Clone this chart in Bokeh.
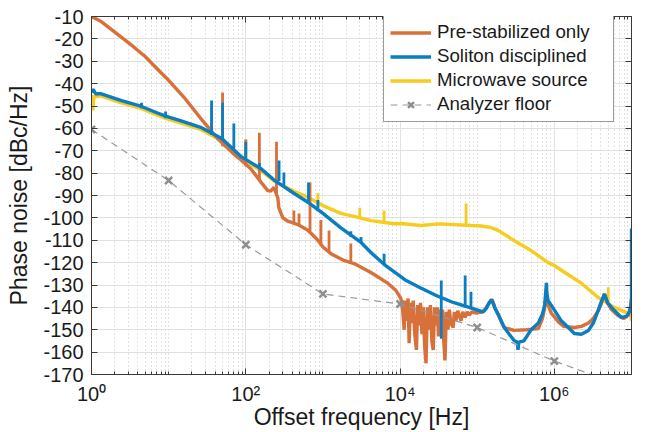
from bokeh.plotting import figure
from bokeh.models import FixedTicker, LogAxis, LinearAxis, Legend, LegendItem
from bokeh.embed import file_html
from bokeh.resources import INLINE

# ---------------- data ----------------
x_ticks = [1, 100, 10000, 1000000]
x_tick_labels = ["10⁰", "10²", "10⁴", "10⁶"]
y_ticks = [-170, -160, -150, -140, -130, -120, -110, -100, -90, -80, -70, -60, -50, -40, -30, -20, -10]
y_tick_labels = ["-170", "-160", "-150", "-140", "-130", "-120", "-110", "-100", "-90", "-80",
                 "-70", "-60", "-50", "-40", "-30", "-20", "-10"]

floor_f = [1, 10, 100, 1000, 10000, 100000, 1000000, 10000000]
floor_db = [-60.5, -83.3, -112, -134, -138.5, -149, -164, -176.5]

pre_f = [1, 1.3, 1.93, 3.5, 5, 7.9, 10, 15.7, 26, 43, 70, 86, 116, 157, 193, 210, 231, 260, 268,
         302, 351, 473, 638, 861, 1000, 1270, 1870, 2530, 4190, 6990, 8870, 10230,
         10800, 11300, 11600, 12200, 12700, 13100, 13600, 14300, 14800, 15500, 16300, 16900,
         17700, 18400, 19200, 20000, 20800, 21700, 22600, 23700, 24700, 25800, 26900, 28000,
         29400, 30500, 31500, 32800, 34200, 35500, 36800, 38200, 39800, 41800, 43500, 45500,
         48800, 50500, 52900, 56000, 61600, 65000, 69800, 74000, 78700, 85000, 96000,
         119000, 131000, 143000, 156000, 170000, 186000, 203000, 224000, 300000, 436000,
         620000, 700000, 750000, 790000, 830000, 910000, 1.13e6, 1.32e6, 1.82e6, 2.24e6,
         2.77e6, 3.2e6, 3.7e6, 4.0e6, 4.46e6, 4.9e6, 5.5e6, 6.6e6, 7.9e6, 9.1e6, 9.8e6, 1e7]
pre_db = [-10, -12, -16.5, -23.5, -28, -35, -38.5, -46, -55.5, -64.5, -71.5, -74, -78, -84,
          -87.8, -88, -86.4, -91, -95.4, -100, -101.5, -103, -105.5, -110, -113, -116, -119,
          -120.4, -124.4, -129.3, -132.5, -136,
          -141, -150, -137, -146, -136, -156, -138, -147, -137, -152, -159, -139,
          -148, -138, -152, -140, -157, -165, -140, -150, -139, -155, -159, -140,
          -148, -140, -153, -141, -147, -141, -155, -163.7, -142, -150, -141, -147,
          -149, -142, -146, -141.5, -146, -142, -144.5, -142, -143.5, -142, -142.5,
          -142, -140, -138, -136.5, -140, -143, -146, -149, -150.3, -150,
          -149.5, -145, -140, -133, -139, -142.5, -146.5, -148.5, -149, -148.5,
          -147, -145, -141.5, -139, -134, -138, -141, -143.5, -145, -143.5, -140, -136]

sol_f = [1, 1.05, 1.13, 1.31, 2.45, 4.46, 6.78, 9.14, 13.5, 18.2, 26, 48.8, 86, 157, 231, 419,
         638, 1000, 1710, 3120, 4190, 6580, 12000, 17700, 29400, 48800, 78700, 119000, 131000,
         143000, 152000, 160000, 170000, 186000, 224000, 300000, 330000, 338000, 346000, 403000,
         500000, 620000, 700000, 750000, 790000, 800000, 830000, 910000, 1.23e6, 1.82e6, 2.24e6,
         2.77e6, 3.2e6, 3.7e6, 4.0e6, 4.46e6, 4.9e6, 6.0e6, 7.4e6, 8.6e6, 9.4e6, 9.8e6, 1e7, 1e7]
sol_db = [-44, -42.5, -44.5, -44.5, -47.6, -50.2, -52.8, -54.5, -56.3, -57.8, -59.5, -64.5, -72.5,
          -78, -83, -89, -93, -98, -104.5, -111, -115.5, -121.5, -128, -131, -134.7, -137.8, -140,
          -142, -140.5, -138, -136.5, -138, -140.5, -143, -149, -154.8, -155.5, -159, -155.5, -155,
          -150, -147, -143, -139, -129, -134, -137, -139, -146, -151.7, -152,
          -150.3, -147, -141.4, -138, -134, -138, -141.4, -144.5, -144, -142, -139, -136, -104.7]

mw_f = [1, 1.04, 1.07, 1.31, 2.45, 4.46, 6.78, 9.14, 13.5, 18.2, 26, 48.8, 86, 157, 231, 300, 419,
        638, 1000, 1710, 2850, 4190, 8310, 10230, 18600, 31500, 83000, 112000, 150000, 186000,
        250000, 273000, 500000, 830000, 1.0e6, 1.37e6, 2.26e6, 3.7e6, 6.0e6, 9.1e6, 9.8e6, 1e7]
mw_db = [-45, -52, -46, -45.5, -48.6, -51.2, -53.8, -55.5, -57.3, -58.8, -60.5, -65.5, -73.5, -78.8,
         -83.5, -85.5, -88, -90.8, -94.5, -98, -99.8, -101.2, -102.6, -102.5, -103.4, -102.7, -103.4,
         -103.6, -104.3, -105.6, -108.3, -109.3, -114.6, -120, -121.3, -124.4, -129.3, -135.6,
         -140, -142.7, -144, -146]

# spurs: frequency, foot level, tip level
pre_spur_f = [50, 100, 150, 250, 420, 490, 680, 940, 1200, 2300]
pre_spur_lo = [-68, -77, -83, -90, -102.5, -103.3, -106, -112, -115, -119.5]
pre_spur_hi = [-44, -65, -62, -66, -96.7, -98, -84.2, -101, -105.6, -111.5]

sol_spur_f = [4.46, 9.14, 36, 50, 70, 100, 150, 270, 312, 650, 861, 2300, 3120, 6210, 34200, 69800, 83000]
sol_spur_lo = [-51, -55.5, -63, -65, -69, -73.5, -78, -83.5, -85.5, -93.5, -97, -108.5, -111.5, -121, -154, -140, -140.5]
sol_spur_hi = [-48.5, -52.5, -47.5, -48.5, -57.8, -66, -75.5, -74.4, -79.7, -84.2, -92, -106, -108.5, -116, -128, -125.8, -133]

mw_spur_f = [36, 50, 100, 861, 3000, 6210, 71700, 5.0e6]
mw_spur_lo = [-63.5, -66, -72, -93.5, -100.5, -102, -103.3, -137.5]
mw_spur_hi = [-49, -48, -65, -89, -95.5, -96.7, -93.6, -131]

# ---------------- styling ----------------
ORANGE = "#D8703A"
BLUE = "#0B7DC1"
YELLOW = "#F6CC1E"
GRAY = "#8E8E8E"
AXC = "#3A3A3A"
FONT = "Liberation Sans"

x_minor = [k * 10 ** n for n in range(0, 7) for k in range(1, 10)
           if k * 10 ** n not in x_ticks] + [10 ** 7]

p = figure(x_axis_type="log", x_range=(1, 1e7), y_range=(-170, -10),
           frame_width=540, frame_height=358,
           min_border_left=91, min_border_right=6, min_border_top=16, min_border_bottom=50,
           output_backend="svg", toolbar_location=None, background_fill_color="white")

xt = FixedTicker(ticks=x_ticks, minor_ticks=x_minor)
yt = FixedTicker(ticks=y_ticks, minor_ticks=[])
p.xaxis.ticker = xt
p.yaxis.ticker = yt
p.xaxis.major_label_overrides = dict(zip(x_ticks, x_tick_labels))
p.yaxis.major_label_overrides = dict(zip(y_ticks, y_tick_labels))

for ax in (p.xaxis[0], p.yaxis[0]):
    ax.axis_line_color = AXC
    ax.axis_line_width = 1
    ax.major_tick_line_color = AXC
    ax.minor_tick_line_color = AXC
    ax.major_tick_in = 6
    ax.major_tick_out = 0
    ax.minor_tick_in = 3
    ax.minor_tick_out = 0
    ax.major_label_text_font = FONT
    ax.major_label_text_font_size = "20px"
    ax.major_label_text_color = "#1a1a1a"
    ax.axis_label_text_font = FONT
    ax.axis_label_text_font_size = "23px"
    ax.axis_label_text_font_style = "normal"
    ax.axis_label_text_color = "#1a1a1a"

p.xaxis.axis_label = "Offset frequency [Hz]"
p.yaxis.axis_label = "Phase noise [dBc/Hz]"
p.xaxis.major_label_standoff = 8
p.xaxis.axis_label_standoff = -4
p.yaxis.major_label_standoff = 8
p.yaxis.axis_label_standoff = 8

top = LogAxis(ticker=FixedTicker(ticks=x_ticks, minor_ticks=x_minor),
              major_label_overrides={t: "" for t in x_ticks},
              major_label_text_font_size="0px", major_label_standoff=0,
              axis_line_color=AXC, major_tick_line_color=AXC, minor_tick_line_color=AXC,
              major_tick_in=6, major_tick_out=0, minor_tick_in=3, minor_tick_out=0)
right = LinearAxis(ticker=FixedTicker(ticks=y_ticks, minor_ticks=[]),
                   major_label_overrides={t: "" for t in y_ticks},
                   major_label_text_font_size="0px", major_label_standoff=0,
                   axis_line_color=AXC, major_tick_line_color=AXC,
                   major_tick_in=6, major_tick_out=0, minor_tick_in=0, minor_tick_out=0)
p.add_layout(top, "above")
p.add_layout(right, "right")

p.xgrid.ticker = xt
p.ygrid.ticker = yt
p.xgrid.grid_line_color = "#e1e1e1"
p.ygrid.grid_line_color = "#e1e1e1"
p.xgrid.minor_grid_line_color = "#c6c6c6"
p.xgrid.minor_grid_line_dash = "1 3"
p.outline_line_color = AXC
p.outline_line_width = 1

LW = 3.4
r_mw = p.line(mw_f, mw_db, color=YELLOW, line_width=LW)
p.segment(x0=mw_spur_f, y0=mw_spur_lo, x1=mw_spur_f, y1=mw_spur_hi, color=YELLOW, line_width=2.8)
r_pre = p.line(pre_f, pre_db, color=ORANGE, line_width=LW)
p.segment(x0=pre_spur_f, y0=pre_spur_lo, x1=pre_spur_f, y1=pre_spur_hi, color=ORANGE, line_width=2.8)
r_sol = p.line(sol_f, sol_db, color=BLUE, line_width=LW)
p.segment(x0=sol_spur_f, y0=sol_spur_lo, x1=sol_spur_f, y1=sol_spur_hi, color=BLUE, line_width=2.8)
r_fl = p.line(floor_f, floor_db, color="#9a9a9a", line_width=1.2, line_dash="7 5")
r_fm = p.scatter(floor_f, floor_db, marker="x", size=10, line_width=2.5, color=GRAY)

legend = Legend(items=[
    LegendItem(label="Pre-stabilized only", renderers=[r_pre]),
    LegendItem(label="Soliton disciplined", renderers=[r_sol]),
    LegendItem(label="Microwave source", renderers=[r_mw]),
    LegendItem(label="Analyzer floor", renderers=[r_fl, r_fm]),
], location=(292, 252))
legend.label_text_font = FONT
legend.label_text_font_size = "18.7px"
legend.label_text_color = "#1a1a1a"
legend.glyph_width = 41
legend.glyph_height = 21
legend.label_height = 21
legend.label_width = 170
legend.label_standoff = 6
legend.padding = 6
legend.spacing = 2
legend.margin = 0
legend.border_line_color = AXC
legend.border_line_width = 1
legend.background_fill_color = "white"
legend.background_fill_alpha = 1
p.add_layout(legend)

open("out.html", "w").write(file_html(p, INLINE))
